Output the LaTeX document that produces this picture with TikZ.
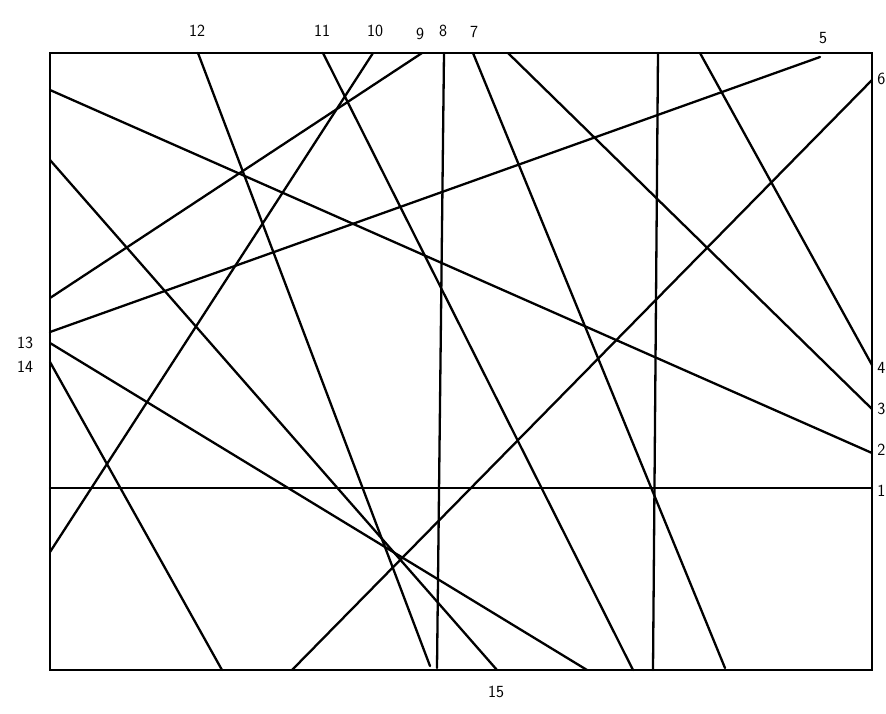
\documentclass[tikz,border=0pt]{standalone}
\begin{document}
\begin{tikzpicture}[x=1pt,y=-1pt,
  ln/.style={line width=2.3pt,black,line cap=round},
  lbl/.style={font=\fontsize{17}{19}\selectfont\sffamily,inner sep=0pt}]
\useasboundingbox[fill=white] (0,0) rectangle (886,713);
% frame corners
\coordinate (TL) at (50,53);
\coordinate (TR) at (872,53);
\coordinate (BR) at (872,670);
\coordinate (BL) at (50,670);
\draw[ln] (TL) -- (TR) -- (BR) -- (BL) -- cycle;
% endpoints
\coordinate (h1a) at (50,488);   \coordinate (h1b) at (872,488);
\coordinate (l2a) at (50,90);    \coordinate (l2b) at (872,453);
\coordinate (l3a) at (508,53);   \coordinate (l3b) at (872,409);
\coordinate (l4a) at (700,53);   \coordinate (l4b) at (872,365);
\coordinate (l5a) at (50,332);   \coordinate (l5b) at (820,57);
\coordinate (l6a) at (292,670);  \coordinate (l6b) at (872,80);
\coordinate (l7a) at (473,53);   \coordinate (l7b) at (725,668);
\coordinate (l8a) at (444,53);   \coordinate (l8b) at (437,668);
\coordinate (l9a) at (50,298);   \coordinate (l9b) at (422,53);
\coordinate (l10a) at (50,552);  \coordinate (l10b) at (373,53);
\coordinate (l11a) at (323,53);  \coordinate (l11b) at (633,670);
\coordinate (l12a) at (198,53);  \coordinate (l12b) at (430,666);
\coordinate (l13a) at (50,343);  \coordinate (l13b) at (587,670);
\coordinate (l14a) at (50,362);  \coordinate (l14b) at (222,670);
\coordinate (l15a) at (50,160);  \coordinate (l15b) at (497,670);
\coordinate (vva) at (658,53);   \coordinate (vvb) at (653,670);
% lines
\draw[ln] (h1a) -- (h1b);
\draw[ln] (l2a) -- (l2b);
\draw[ln] (l3a) -- (l3b);
\draw[ln] (l4a) -- (l4b);
\draw[ln] (l5a) -- (l5b);
\draw[ln] (l6a) -- (l6b);
\draw[ln] (l7a) -- (l7b);
\draw[ln] (l8a) -- (l8b);
\draw[ln] (l9a) -- (l9b);
\draw[ln] (l10a) -- (l10b);
\draw[ln] (l11a) -- (l11b);
\draw[ln] (l12a) -- (l12b);
\draw[ln] (l13a) -- (l13b);
\draw[ln] (l14a) -- (l14b);
\draw[ln] (l15a) -- (l15b);
\draw[ln] (vva) -- (vvb);
% labels
\node[lbl] (t12) at (197,31) {12};
\node[lbl] (t11) at (322,31) {11};
\node[lbl] (t10) at (375,31) {10};
\node[lbl] (t9) at (420,34) {9};
\node[lbl] (t8) at (443,31) {8};
\node[lbl] (t7) at (474,32) {7};
\node[lbl] (t5) at (823,38) {5};
\node[lbl] (t13) at (25,343) {13};
\node[lbl] (t14) at (25,367) {14};
\node[lbl] (t15) at (496,692) {15};
\node[lbl,anchor=east] (t6) at (885.5,79) {6};
\node[lbl,anchor=east] (t4) at (885.5,368) {4};
\node[lbl,anchor=east] (t3) at (885.5,409) {3};
\node[lbl,anchor=east] (t2) at (885.5,450) {2};
\node[lbl,anchor=east] (t1) at (885.5,491) {1};
\end{tikzpicture}
\end{document}
